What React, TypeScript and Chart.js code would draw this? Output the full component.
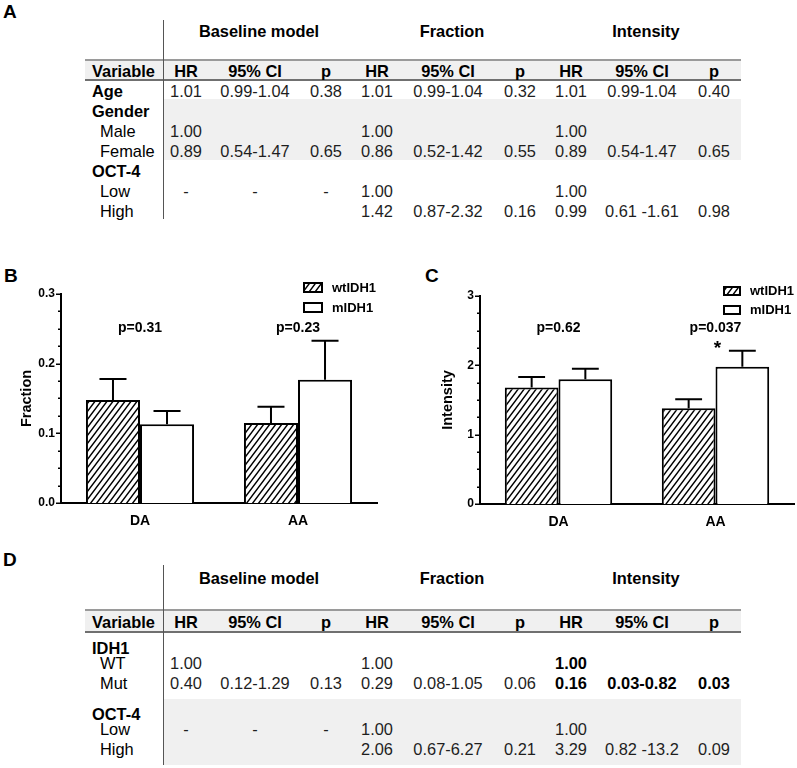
import React, { useEffect, useRef } from 'react';
import { Chart, registerables } from 'chart.js';

Chart.register(...registerables);

const FONT = '"Liberation Sans", Arial, Helvetica, sans-serif';

// ---------- Panel B / C data ----------
const categories = ['DA', 'AA'];
const seriesLabels = ['wtIDH1', 'mIDH1'];

const fractionWt = [0.148, 0.115];
const fractionWtErr = [0.030, 0.023];
const fractionMut = [0.113, 0.177];
const fractionMutErr = [0.019, 0.056];
const fractionP = ['p=0.31', 'p=0.23'];
const fractionMarks = ['', ''];

const intensityWt = [1.68, 1.38];
const intensityWtErr = [0.15, 0.13];
const intensityMut = [1.80, 1.98];
const intensityMutErr = [0.15, 0.23];
const intensityP = ['p=0.62', 'p=0.037'];
const intensityMarks = ['', '*'];

// ---------- Table data ----------
const groupHeaders = ['Baseline model', 'Fraction', 'Intensity'];
const colHeaders = ['HR', '95% CI', 'p', 'HR', '95% CI', 'p', 'HR', '95% CI', 'p'];

const tableALabels = ['Age', 'Gender', 'Male', 'Female', 'OCT-4', 'Low', 'High'];
const tableAHeading = [true, true, false, false, true, false, false];
const tableAValues = [
  ['1.01', '0.99-1.04', '0.38', '1.01', '0.99-1.04', '0.32', '1.01', '0.99-1.04', '0.40'],
  [],
  ['1.00', '', '', '1.00', '', '', '1.00', '', ''],
  ['0.89', '0.54-1.47', '0.65', '0.86', '0.52-1.42', '0.55', '0.89', '0.54-1.47', '0.65'],
  [],
  ['-', '-', '-', '1.00', '', '', '1.00', '', ''],
  ['', '', '', '1.42', '0.87-2.32', '0.16', '0.99', '0.61 -1.61', '0.98'],
];

const tableDLabels = ['IDH1', 'WT', 'Mut', 'OCT-4', 'Low', 'High'];
const tableDHeading = [true, false, false, true, false, false];
const tableDValues = [
  [],
  ['1.00', '', '', '1.00', '', '', '1.00', '', ''],
  ['0.40', '0.12-1.29', '0.13', '0.29', '0.08-1.05', '0.06', '0.16', '0.03-0.82', '0.03'],
  [],
  ['-', '-', '-', '1.00', '', '', '1.00', '', ''],
  ['', '', '', '2.06', '0.67-6.27', '0.21', '3.29', '0.82 -13.2', '0.09'],
];
// bold flags (significant results) per cell
const tableDBold = [
  [],
  [false, false, false, false, false, false, true, true, true],
  [false, false, false, false, false, false, true, true, true],
  [],
  [],
  [],
];

// ---------- layout constants ----------
const COLS = [186, 255, 326, 377, 448, 520, 571, 642, 714];
const GROUP_X = [259, 452, 646];
const TABLE_L = 85;
const TABLE_R = 741;
const VLINE_X = 163;
const SIZE = 16.4;

function Txt(props: {
  x: number; y: number; children: React.ReactNode; align?: 'left' | 'center' | 'right';
  bold?: boolean; size?: number; color?: string;
}) {
  const { x, y, children, align = 'left', bold = false, size = SIZE, color = '#000' } = props;
  const tx = align === 'center' ? '-50%' : align === 'right' ? '-100%' : '0';
  return (
    <div
      style={{
        position: 'absolute', left: x, top: y, transform: `translate(${tx}, -50%)`,
        fontSize: size, fontWeight: bold ? 700 : 400, lineHeight: 1, whiteSpace: 'nowrap', color,
      }}
    >
      {children}
    </div>
  );
}

function Box(props: { x: number; y: number; w: number; h: number; bg: string }) {
  return <div style={{ position: 'absolute', left: props.x, top: props.y, width: props.w, height: props.h, background: props.bg }} />;
}

function Table(props: {
  groupY: number; lineTop: number; lineBottom: number; vTop: number; vBottom: number;
  band: [number, number]; rowYs: number[]; labels: string[]; heading: boolean[];
  values: string[][]; bold?: boolean[][];
}) {
  const { groupY, lineTop, lineBottom, vTop, vBottom, band, rowYs, labels, heading, values, bold } = props;
  const headerY = (lineTop + lineBottom) / 2 + 0.5;
  return (
    <>
      <Box x={TABLE_L} y={lineTop} w={TABLE_R - TABLE_L} h={lineBottom - lineTop} bg="#f0f0f0" />
      <Box x={VLINE_X} y={band[0]} w={TABLE_R - VLINE_X} h={band[1] - band[0]} bg="#f0f0f0" />
      <Box x={TABLE_L} y={lineTop - 1} w={TABLE_R - TABLE_L} h={2} bg="#9a9a9a" />
      <Box x={TABLE_L} y={lineBottom - 1} w={TABLE_R - TABLE_L} h={2} bg="#707070" />
      <Box x={VLINE_X - 0.5} y={vTop} w={1.3} h={vBottom - vTop} bg="#555" />
      {groupHeaders.map((g, i) => (
        <Txt key={'g' + i} x={GROUP_X[i]} y={groupY} align="center" bold>{g}</Txt>
      ))}
      <Txt x={92} y={headerY} bold>Variable</Txt>
      {colHeaders.map((h, i) => (
        <Txt key={'h' + i} x={COLS[i]} y={headerY} align="center" bold>{h}</Txt>
      ))}
      {labels.map((l, r) => (
        <React.Fragment key={'r' + r}>
          <Txt x={heading[r] ? 92 : 100} y={rowYs[r]} bold={heading[r]}>{l}</Txt>
          {values[r].map((v, c) =>
            v ? (
              <Txt key={'c' + c} x={COLS[c]} y={rowYs[r]} align="center"
                bold={!!(bold && bold[r] && bold[r][c])}
                color={bold && bold[r] && bold[r][c] ? '#000' : '#1e1e1e'}>{v}</Txt>
            ) : null,
          )}
        </React.Fragment>
      ))}
    </>
  );
}

function makeHatch(): CanvasPattern | string {
  const c = document.createElement('canvas');
  c.width = 6;
  c.height = 8;
  const g = c.getContext('2d');
  if (!g) return '#fff';
  g.fillStyle = '#fff';
  g.fillRect(0, 0, 6, 8);
  g.strokeStyle = '#000';
  g.lineWidth = 1.4;
  g.beginPath();
  g.moveTo(-6, 8); g.lineTo(6, -8);
  g.moveTo(0, 8); g.lineTo(6, 0);
  g.moveTo(0, 16); g.lineTo(12, 0);
  g.stroke();
  return g.createPattern(c, 'repeat') || '#fff';
}

const annotatePlugin = {
  id: 'annotate',
  afterDatasetsDraw(chart: any, _args: any, opts: any) {
    const ctx = chart.ctx as CanvasRenderingContext2D;
    const ys = chart.scales.y;
    const xs = chart.scales.x;
    const area = chart.chartArea;
    const errs = [opts.wtErr, opts.mutErr];
    ctx.save();
    // error bars (upper only)
    ctx.strokeStyle = '#000';
    ctx.lineWidth = 2;
    chart.data.datasets.forEach((ds: any, i: number) => {
      const meta = chart.getDatasetMeta(i);
      meta.data.forEach((el: any, j: number) => {
        const v = ds.data[j] as number;
        const top = ys.getPixelForValue(v + errs[i][j]);
        const half = el.width / 4;
        ctx.beginPath();
        ctx.moveTo(el.x, el.y);
        ctx.lineTo(el.x, top);
        ctx.moveTo(el.x - half, top);
        ctx.lineTo(el.x + half, top);
        ctx.stroke();
      });
    });
    // y axis tick marks (major + minor)
    ctx.lineWidth = 1.5;
    const n = Math.round(opts.max / opts.minor);
    const per = Math.round(opts.step / opts.minor);
    for (let k = 0; k <= n; k++) {
      const py = Math.round(ys.getPixelForValue(k * opts.minor)) + 0.25;
      const len = k % per === 0 ? 5 : 3;
      ctx.beginPath();
      ctx.moveTo(area.left - len, py);
      ctx.lineTo(area.left, py);
      ctx.stroke();
    }
    // p-value labels
    ctx.fillStyle = '#000';
    ctx.font = `bold 14px ${FONT}`;
    ctx.textAlign = 'center';
    ctx.textBaseline = 'middle';
    opts.pLabels.forEach((p: string, j: number) => {
      ctx.fillText(p, xs.getPixelForValue(j), area.top + opts.pOffset);
    });
    ctx.font = `bold 19px ${FONT}`;
    ctx.textBaseline = 'alphabetic';
    opts.marks.forEach((m: string, j: number) => {
      if (m) ctx.fillText(m, xs.getPixelForValue(j) + 2, area.top + opts.markOffset);
    });
    // legend
    const L = opts.legend;
    ctx.lineWidth = 2;
    ctx.font = `bold 13px ${FONT}`;
    ctx.textAlign = 'left';
    ctx.textBaseline = 'middle';
    chart.data.datasets.forEach((ds: any, i: number) => {
      const by = L.y + i * L.gap;
      ctx.fillStyle = ds.backgroundColor;
      ctx.fillRect(L.x, by, L.w, L.h);
      ctx.strokeRect(L.x, by, L.w, L.h);
      ctx.fillStyle = '#000';
      ctx.fillText(ds.label, L.x + L.tx, by + L.h / 2 + 0.5);
    });
    ctx.restore();
  },
};

type PanelProps = {
  left: number; top: number; width: number; height: number;
  wt: number[]; wtErr: number[]; mut: number[]; mutErr: number[];
  pLabels: string[]; marks: string[];
  yTitle: string; yMax: number; yStep: number; yMinor: number; decimals: number;
  padRight: number; padTop: number; yWidth: number; xHeight: number; titlePad: number;
  legend: { x: number; y: number; w: number; h: number; gap: number; tx: number };
  pOffset: number; markOffset: number;
};

function BarPanel(p: PanelProps) {
  const ref = useRef<HTMLCanvasElement | null>(null);
  useEffect(() => {
    if (!ref.current) return;
    const hatch = makeHatch();
    const chart = new Chart(ref.current, {
      type: 'bar',
      data: {
        labels: categories,
        datasets: [
          {
            label: seriesLabels[0], data: p.wt, backgroundColor: hatch as any, borderColor: '#000',
            borderWidth: 2, categoryPercentage: 0.684, barPercentage: 1,
          },
          {
            label: seriesLabels[1], data: p.mut, backgroundColor: '#fff', borderColor: '#000',
            borderWidth: 2, categoryPercentage: 0.684, barPercentage: 1,
          },
        ],
      },
      options: {
        responsive: false,
        animation: false,
        devicePixelRatio: 1,
        layout: { padding: { left: 0, right: p.padRight, top: p.padTop, bottom: 0 } },
        plugins: {
          legend: { display: false },
          tooltip: { enabled: false },
          annotate: {
            wtErr: p.wtErr, mutErr: p.mutErr, max: p.yMax, step: p.yStep, minor: p.yMinor,
            pLabels: p.pLabels, marks: p.marks, legend: p.legend, pOffset: p.pOffset, markOffset: p.markOffset,
          },
        } as any,
        scales: {
          x: {
            grid: { display: false, drawTicks: false },
            border: { display: true, color: '#000', width: 2 },
            ticks: { color: '#000', font: { family: FONT, size: 14, weight: 'bold' }, padding: 10 },
            afterFit: (s: any) => { s.height = p.xHeight; },
          },
          y: {
            min: 0,
            max: p.yMax,
            grid: { display: false, drawTicks: false },
            border: { display: true, color: '#000', width: 2 },
            ticks: {
              stepSize: p.yStep, color: '#000', padding: 6,
              font: { family: FONT, size: 12, weight: 'bold' },
              callback: (v: any) => Number(v).toFixed(p.decimals),
            },
            title: {
              display: true, text: p.yTitle, color: '#000',
              font: { family: FONT, size: 14.5, weight: 'bold' },
              padding: { top: p.titlePad, bottom: 0 },
            },
            afterFit: (s: any) => { s.width = p.yWidth; },
          },
        },
      } as any,
      plugins: [annotatePlugin],
    });
    return () => chart.destroy();
  }, []);
  return (
    <canvas
      ref={ref}
      width={p.width}
      height={p.height}
      style={{ position: 'absolute', left: p.left, top: p.top, width: p.width, height: p.height }}
    />
  );
}

export default function App() {
  return (
    <div
      style={{
        position: 'absolute', left: 0, top: 0, width: 797, height: 768, background: '#fff',
        fontFamily: FONT, overflow: 'hidden', color: '#000',
      }}
    >
      <Txt x={3} y={11} bold size={19}>A</Txt>
      <Table
        groupY={31} lineTop={60} lineBottom={80} vTop={20} vBottom={219} band={[99, 160]}
        rowYs={[90.8, 110.8, 130.8, 150.8, 170.8, 190.8, 210.8]}
        labels={tableALabels} heading={tableAHeading} values={tableAValues}
      />

      <Txt x={4} y={275} bold size={19}>B</Txt>
      <BarPanel
        left={0} top={240} width={390} height={300}
        wt={fractionWt} wtErr={fractionWtErr} mut={fractionMut} mutErr={fractionMutErr}
        pLabels={fractionP} marks={fractionMarks}
        yTitle="Fraction" yMax={0.3} yStep={0.1} yMinor={0.025} decimals={1}
        padRight={13} padTop={54} yWidth={61} xHeight={37} titlePad={18}
        legend={{ x: 304, y: 43, w: 18, h: 9, gap: 20, tx: 28 }}
        pOffset={34} markOffset={58}
      />

      <Txt x={425} y={275} bold size={19}>C</Txt>
      <BarPanel
        left={390} top={240} width={407} height={300}
        wt={intensityWt} wtErr={intensityWtErr} mut={intensityMut} mutErr={intensityMutErr}
        pLabels={intensityP} marks={intensityMarks}
        yTitle="Intensity" yMax={3} yStep={1} yMinor={0.25} decimals={0}
        padRight={3} padTop={56} yWidth={90} xHeight={36} titlePad={49}
        legend={{ x: 334, y: 47, w: 16, h: 8, gap: 19, tx: 26 }}
        pOffset={32} markOffset={58}
      />

      <Txt x={3} y={559} bold size={19}>D</Txt>
      <Table
        groupY={578} lineTop={610} lineBottom={632} vTop={565} vBottom={765} band={[699, 765]}
        rowYs={[647.5, 662.5, 682.5, 714, 729, 749]}
        labels={tableDLabels} heading={tableDHeading} values={tableDValues} bold={tableDBold}
      />
    </div>
  );
}
